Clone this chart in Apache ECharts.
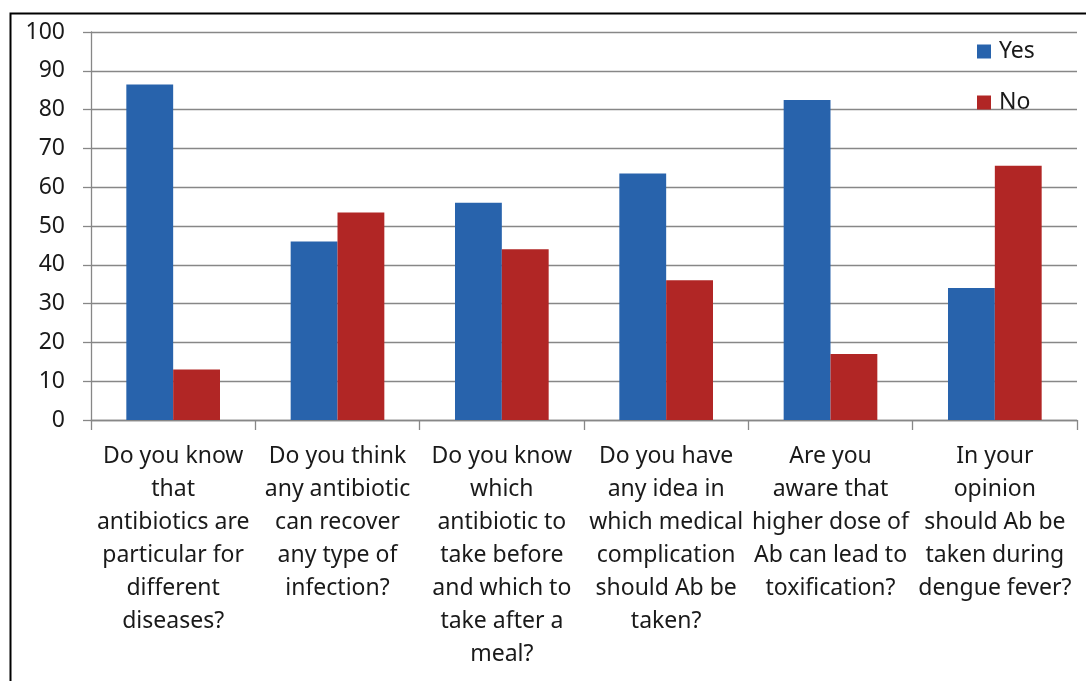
<!DOCTYPE html>
<html>
<head>
<meta charset="utf-8">
<script src="https://cdn.jsdelivr.net/npm/echarts@6/dist/echarts.min.js"></script>
<style>
  html, body { margin: 0; padding: 0; background: #ffffff; }
  #chart { width: 1086px; height: 681px; }
</style>
</head>
<body>
<div id="chart"></div>
<script>
// Survey questions (wrapped as printed under each pair of bars)
const categories = [
  "Do you know\nthat\nantibiotics are\nparticular for\ndifferent\ndiseases?",
  "Do you think\nany antibiotic\ncan recover\nany type of\ninfection?",
  "Do you know\nwhich\nantibiotic to\ntake before\nand which to\ntake after a\nmeal?",
  "Do you have\nany idea in\nwhich medical\ncomplication\nshould Ab be\ntaken?",
  "Are you\naware that\nhigher dose of\nAb can lead to\ntoxification?",
  "In your\nopinion\nshould Ab be\ntaken during\ndengue fever?"
];

// Percentage of respondents
const yesValues = [86.5, 46, 56, 63.5, 82.5, 34];
const noValues  = [13, 53.5, 44, 36, 17, 65.5];

const seriesNames = ["Yes", "No"];
const yTicks = { min: 0, max: 100, interval: 10 };

const FONT = "'Noto Sans', 'Open Sans', sans-serif";
const FONT_SIZE = 23;
const TEXT_COLOR = "#1a1a1a";
const AXIS_GREY = "#878787";

const chart = echarts.init(document.getElementById("chart"), null, { renderer: "canvas" });

chart.setOption({
  backgroundColor: "#ffffff",
  animation: false,
  graphic: [{
    type: "rect",
    left: 8, top: 11,
    shape: { x: 0, y: 0, width: 1200, height: 800 },
    style: { fill: "none", stroke: "#000000", lineWidth: 2 },
    silent: true, z: 100
  }],
  grid: { left: 91, right: 9, top: 32, bottom: 261, containLabel: false },
  legend: {
    orient: "vertical",
    left: 977, top: 40, padding: 0,
    itemWidth: 14, itemHeight: 14, itemGap: 28,
    icon: "rect",
    data: seriesNames,
    textStyle: { fontFamily: FONT, fontSize: FONT_SIZE, lineHeight: 20, color: TEXT_COLOR, padding: [0, 0, 0, 3] }
  },
  xAxis: {
    type: "category",
    data: categories,
    axisLine: { show: true, lineStyle: { color: AXIS_GREY, width: 1.3 } },
    axisTick: { show: true, length: 10, alignWithLabel: false, lineStyle: { color: AXIS_GREY, width: 1.3 } },
    axisLabel: {
      interval: 0, margin: 20,
      fontFamily: FONT, fontSize: FONT_SIZE, lineHeight: 33, color: TEXT_COLOR, align: "center"
    },
    splitLine: { show: false }
  },
  yAxis: {
    type: "value",
    min: yTicks.min, max: yTicks.max, interval: yTicks.interval,
    axisLine: { show: true, lineStyle: { color: AXIS_GREY, width: 1.3 } },
    axisTick: { show: true, inside: false, length: 8, lineStyle: { color: AXIS_GREY, width: 1.3 } },
    axisLabel: { margin: 26, fontFamily: FONT, fontSize: FONT_SIZE, color: TEXT_COLOR },
    splitLine: { show: true, lineStyle: { color: AXIS_GREY, width: 1.3 } }
  },
  series: [
    {
      name: seriesNames[0], type: "bar", data: yesValues,
      barGap: "0%", barCategoryGap: "43%",
      itemStyle: { color: "#2863AC" }
    },
    {
      name: seriesNames[1], type: "bar", data: noValues,
      barGap: "0%", barCategoryGap: "43%",
      itemStyle: { color: "#B12625" }
    }
  ]
});
</script>
</body>
</html>
